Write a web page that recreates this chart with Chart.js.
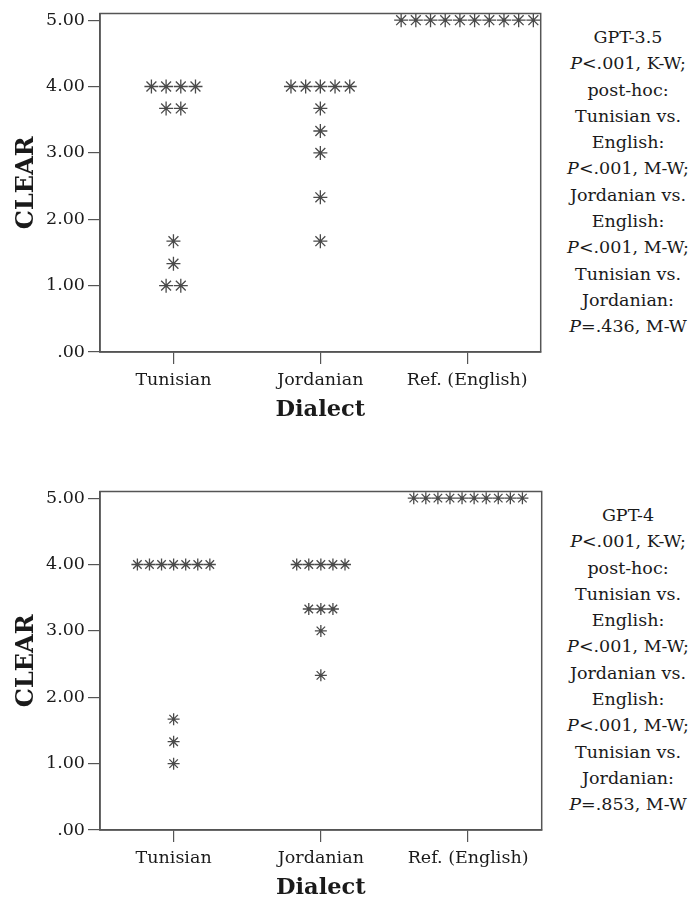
<!DOCTYPE html>
<html>
<head>
<meta charset="utf-8">
<script src="https://cdn.jsdelivr.net/npm/chart.js@4/dist/chart.umd.min.js"></script>
<style>
    body { margin: 0; background: #fff; width: 688px; height: 899px; overflow: hidden; position: relative; }
    canvas { position: absolute; left: 0; }
    .note {
        position: absolute; left: 553px; width: 150px; text-align: center;
        font-family: "DejaVu Serif", serif; font-size: 17.5px; line-height: 26.3px; color: #1a1a1a;
    }
    .note i { font-style: italic; }
</style>
</head>
<body>
<canvas id="chartTop" width="549" height="430" style="top:0px"></canvas>
<canvas id="chartBottom" width="549" height="430" style="top:478px"></canvas>

<div class="note" style="top:24px">
    GPT-3.5<br><i>P</i>&lt;.001, K-W;<br>post-hoc:<br>Tunisian vs.<br>English:<br><i>P</i>&lt;.001, M-W;<br>Jordanian vs.<br>English:<br><i>P</i>&lt;.001, M-W;<br>Tunisian vs.<br>Jordanian:<br><i>P</i>=.436, M-W
</div>
<div class="note" style="top:502px">
    GPT-4<br><i>P</i>&lt;.001, K-W;<br>post-hoc:<br>Tunisian vs.<br>English:<br><i>P</i>&lt;.001, M-W;<br>Jordanian vs.<br>English:<br><i>P</i>&lt;.001, M-W;<br>Tunisian vs.<br>Jordanian:<br><i>P</i>=.853, M-W
</div>

<script>
// categories on the x axis
const dialects = ["Tunisian", "Jordanian", "Ref. (English)"];

// y axis ticks
const yTicks = [0, 1, 2, 3, 4, 5];
const yTickLabels = [".00", "1.00", "2.00", "3.00", "4.00", "5.00"];

// CLEAR scores, GPT-3.5
const gpt35Tunisian = [4, 4, 4, 4, 3.67, 3.67, 1.67, 1.33, 1, 1];
const gpt35Jordanian = [4, 4, 4, 4, 4, 3.67, 3.33, 3, 2.33, 1.67];
const gpt35English = [5, 5, 5, 5, 5, 5, 5, 5, 5, 5];

// CLEAR scores, GPT-4
const gpt4Tunisian = [4, 4, 4, 4, 4, 4, 4, 1.67, 1.33, 1];
const gpt4Jordanian = [4, 4, 4, 4, 4, 3.33, 3.33, 3.33, 3, 2.33];
const gpt4English = [5, 5, 5, 5, 5, 5, 5, 5, 5, 5];

const TEXT = "#1a1a1a";
const LINE = "#555";
const FONT = "'DejaVu Serif', serif";

// stack equal values side by side (like the SPSS dot plot)
function dotPoints(groups, step) {
    const pts = [];
    groups.forEach((vals, ci) => {
        const counts = {};
        vals.forEach(v => { counts[v] = (counts[v] || 0) + 1; });
        Object.keys(counts).forEach(k => {
            const n = counts[k];
            for (let i = 0; i < n; i++) {
                pts.push({ x: ci + 1 + (i - (n - 1) / 2) * step, y: Number(k) });
            }
        });
    });
    return pts;
}

const frame = {
    id: 'frame',
    afterDraw(chart) {
        const a = chart.chartArea;
        const ctx = chart.ctx;
        ctx.save();
        ctx.strokeStyle = LINE;
        ctx.lineWidth = 1.5;
        ctx.strokeRect(a.left, a.top, a.right - a.left, a.bottom - a.top);
        ctx.restore();
    }
};

function createChart(id, groups, step, radius) {
    const pts = dotPoints(groups, step);
    return new Chart(document.getElementById(id), {
        type: 'scatter',
        data: {
            datasets: [
                {
                    data: pts,
                    pointStyle: 'star',
                    pointRadius: radius,
                    borderColor: '#4a4a4a',
                    borderWidth: 1.3,
                    backgroundColor: '#4a4a4a'
                },
                {
                    data: pts,
                    pointStyle: 'circle',
                    pointRadius: 1.4,
                    borderWidth: 0,
                    backgroundColor: '#000'
                }
            ]
        },
        options: {
            responsive: false,
            animation: false,
            events: [],
            layout: { padding: { top: 12, right: 1, left: 0, bottom: 0 } },
            plugins: { legend: { display: false }, tooltip: { enabled: false } },
            scales: {
                x: {
                    type: 'linear',
                    min: 0.5,
                    max: 3.5,
                    afterBuildTicks: s => { s.ticks = dialects.map((d, i) => ({ value: i + 1 })); },
                    afterFit: s => { s.height = 78; },
                    ticks: {
                        callback: (v, i) => dialects[i],
                        font: { family: FONT, size: 17.5 },
                        color: TEXT,
                        padding: 6,
                        maxRotation: 0
                    },
                    grid: { drawOnChartArea: false, tickLength: 12, color: LINE, lineWidth: 1.2 },
                    border: { color: LINE, width: 1.5 },
                    title: {
                        display: true, text: 'Dialect', color: TEXT,
                        font: { family: FONT, size: 22.5, weight: 'bold' },
                        padding: { top: 0, bottom: 6 }
                    }
                },
                y: {
                    min: 0,
                    max: 5.1,
                    afterBuildTicks: s => { s.ticks = yTicks.map(v => ({ value: v })); },
                    afterFit: s => { s.width = 100; },
                    ticks: {
                        callback: (v, i) => yTickLabels[i],
                        font: { family: FONT, size: 17.5 },
                        color: TEXT,
                        padding: 3
                    },
                    grid: { drawOnChartArea: false, tickLength: 12, color: LINE, lineWidth: 1.2 },
                    border: { color: LINE, width: 1.5 },
                    title: {
                        display: true, text: 'CLEAR', color: TEXT,
                        font: { family: FONT, size: 24, weight: 'bold' },
                        padding: { top: 12, bottom: 0 }
                    }
                }
            }
        },
        plugins: [frame]
    });
}

createChart('chartTop', [gpt35Tunisian, gpt35Jordanian, gpt35English], 0.1, 7);
createChart('chartBottom', [gpt4Tunisian, gpt4Jordanian, gpt4English], 0.082, 6);
</script>
</body>
</html>
